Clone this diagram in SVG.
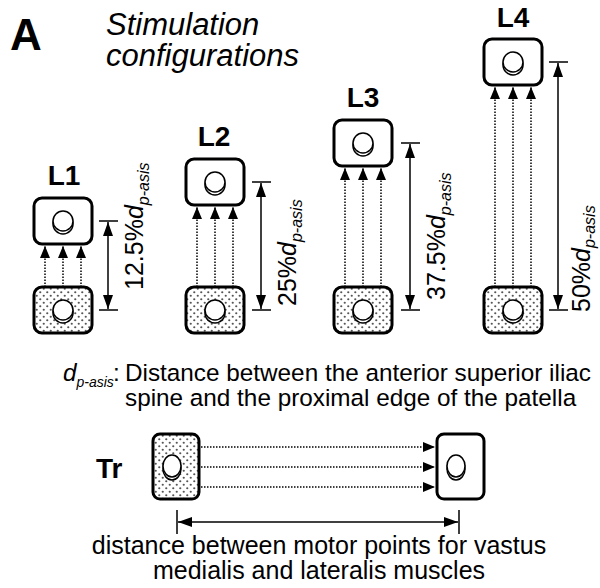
<svg xmlns="http://www.w3.org/2000/svg" width="600" height="588" viewBox="0 0 600 588">
<style>
text{font-family:"Liberation Sans",Arial,sans-serif;fill:#000}
.box{fill:#fff;stroke:#000;stroke-width:3}
.dbox{fill:url(#dots);stroke:#000;stroke-width:3}
.btn{fill:#fff;stroke:#000;stroke-width:1.5}
.dot{fill:none;stroke:#000;stroke-width:1.5;stroke-dasharray:1.5 1.5}
.dim{fill:none;stroke:#000;stroke-width:1.5}
.lbl{font-weight:bold;font-size:28px;text-anchor:middle}
.dl{font-size:25px}
.it{font-style:italic}
.body{font-size:24.3px}
.body2{font-size:25px;text-anchor:middle}
</style>
<defs>
<pattern id="dots" width="7" height="7" patternUnits="userSpaceOnUse">
<rect width="7" height="7" fill="#fff"/>
<circle cx="1.75" cy="1.75" r="1.1" fill="#555"/>
<circle cx="5.25" cy="5.25" r="1.1" fill="#555"/>
</pattern>
<marker id="ah" viewBox="0 0 12 10" refX="12" refY="5" markerWidth="12" markerHeight="10" markerUnits="userSpaceOnUse" orient="auto">
<path d="M0,0 L12,5 L0,10 Z" fill="#000"/>
</marker>
<marker id="dh" viewBox="0 0 14 10" refX="14" refY="5" markerWidth="14" markerHeight="10" markerUnits="userSpaceOnUse" orient="auto-start-reverse">
<path d="M0,0 L14,5 L0,10 Z" fill="#000"/>
</marker>
</defs>

<text x="10" y="50" font-weight="bold" font-size="44">A</text>
<text class="it" font-size="31" x="106" y="35">Stimulation</text>
<text class="it" font-size="31" x="106" y="66">configurations</text>

<g id="L1">
<text class="lbl" x="64" y="185">L1</text>
<rect class="box" x="34" y="198" width="58" height="46" rx="8"/>
<circle class="btn" cx="63" cy="224" r="10"/><circle class="btn" cx="63" cy="221" r="10"/>
<rect class="dbox" x="34" y="287" width="58" height="46" rx="8"/>
<circle class="btn" cx="63" cy="313" r="10"/><circle class="btn" cx="63" cy="310" r="10"/>
</g>
<g id="L2">
<text class="lbl" x="214" y="146">L2</text>
<rect class="box" x="186" y="159" width="58" height="46" rx="8"/>
<circle class="btn" cx="215" cy="185" r="10"/><circle class="btn" cx="215" cy="182" r="10"/>
<rect class="dbox" x="186" y="287" width="58" height="46" rx="8"/>
<circle class="btn" cx="215" cy="313" r="10"/><circle class="btn" cx="215" cy="310" r="10"/>
</g>
<g id="L3">
<text class="lbl" x="363" y="107">L3</text>
<rect class="box" x="334" y="120" width="58" height="46" rx="8"/>
<circle class="btn" cx="363" cy="146" r="10"/><circle class="btn" cx="363" cy="143" r="10"/>
<rect class="dbox" x="334" y="287" width="58" height="46" rx="8"/>
<circle class="btn" cx="363" cy="313" r="10"/><circle class="btn" cx="363" cy="310" r="10"/>
</g>
<g id="L4">
<text class="lbl" x="513" y="27">L4</text>
<rect class="box" x="484" y="39" width="58" height="46" rx="8"/>
<circle class="btn" cx="513" cy="65" r="10"/><circle class="btn" cx="513" cy="62" r="10"/>
<rect class="dbox" x="484" y="287" width="58" height="46" rx="8"/>
<circle class="btn" cx="513" cy="313" r="10"/><circle class="btn" cx="513" cy="310" r="10"/>
</g>

<g id="Tr">
<text x="96" y="478" font-weight="bold" font-size="28">Tr</text>
<rect class="dbox" x="153" y="434" width="46" height="65" rx="7"/>
<ellipse class="btn" cx="172" cy="469" rx="9" ry="11"/><ellipse class="btn" cx="172" cy="466" rx="9" ry="11"/>
<rect class="box" x="437" y="434" width="47" height="65" rx="7"/>
<ellipse class="btn" cx="456" cy="469" rx="9" ry="11"/><ellipse class="btn" cx="456" cy="466" rx="9" ry="11"/>
</g>

<g id="connectors">
<line class="dot" x1="45" y1="287" x2="45" y2="246" marker-end="url(#ah)"/>
<line class="dot" x1="63" y1="287" x2="63" y2="246" marker-end="url(#ah)"/>
<line class="dot" x1="81" y1="287" x2="81" y2="246" marker-end="url(#ah)"/>
<line class="dot" x1="197" y1="287" x2="197" y2="207" marker-end="url(#ah)"/>
<line class="dot" x1="215" y1="287" x2="215" y2="207" marker-end="url(#ah)"/>
<line class="dot" x1="233" y1="287" x2="233" y2="207" marker-end="url(#ah)"/>
<line class="dot" x1="345" y1="287" x2="345" y2="168" marker-end="url(#ah)"/>
<line class="dot" x1="363" y1="287" x2="363" y2="168" marker-end="url(#ah)"/>
<line class="dot" x1="381" y1="287" x2="381" y2="168" marker-end="url(#ah)"/>
<line class="dot" x1="495" y1="287" x2="495" y2="87" marker-end="url(#ah)"/>
<line class="dot" x1="513" y1="287" x2="513" y2="87" marker-end="url(#ah)"/>
<line class="dot" x1="531" y1="287" x2="531" y2="87" marker-end="url(#ah)"/>
<line class="dot" x1="201" y1="447" x2="435" y2="447" marker-end="url(#ah)"/>
<line class="dot" x1="201" y1="467" x2="435" y2="467" marker-end="url(#ah)"/>
<line class="dot" x1="201" y1="487" x2="435" y2="487" marker-end="url(#ah)"/>
<path class="dim" d="M99,221H118M99,310H118"/>
<line class="dim" x1="108" y1="222" x2="108" y2="309" marker-start="url(#dh)" marker-end="url(#dh)"/>
<path class="dim" d="M252,182H271M252,310H271"/>
<line class="dim" x1="261" y1="183" x2="261" y2="309" marker-start="url(#dh)" marker-end="url(#dh)"/>
<path class="dim" d="M401,143H420M401,310H420"/>
<line class="dim" x1="410" y1="144" x2="410" y2="309" marker-start="url(#dh)" marker-end="url(#dh)"/>
<path class="dim" d="M549,62H568M549,310H568"/>
<line class="dim" x1="558" y1="63" x2="558" y2="309" marker-start="url(#dh)" marker-end="url(#dh)"/>
<path class="dim" d="M177,510V534M459,510V534"/>
<line class="dim" x1="178" y1="522" x2="458" y2="522" marker-start="url(#dh)" marker-end="url(#dh)"/>
</g>

<text class="dl" transform="translate(143,290) rotate(-90)">12.5%<tspan class="it">d</tspan><tspan class="it" font-size="16" dy="6">p-asis</tspan></text>
<text class="dl" transform="translate(296,306) rotate(-90)">25%<tspan class="it">d</tspan><tspan class="it" font-size="16" dy="6">p-asis</tspan></text>
<text class="dl" transform="translate(445,300) rotate(-90)">37.5%<tspan class="it">d</tspan><tspan class="it" font-size="16" dy="6">p-asis</tspan></text>
<text class="dl" transform="translate(590,312) rotate(-90)">50%<tspan class="it">d</tspan><tspan class="it" font-size="16" dy="5">p-asis</tspan></text>

<text class="body" x="63" y="381"><tspan class="it">d</tspan><tspan class="it" font-size="14" dy="6">p-asis</tspan></text>
<text class="body" x="113" y="381">:</text>
<text class="body" x="125" y="381">Distance between the anterior superior iliac</text>
<text class="body" x="125" y="406">spine and the proximal edge of the patella</text>

<text class="body2" x="319" y="554">distance between motor points for vastus</text>
<text class="body2" x="319" y="579">medialis and lateralis muscles</text>
</svg>
